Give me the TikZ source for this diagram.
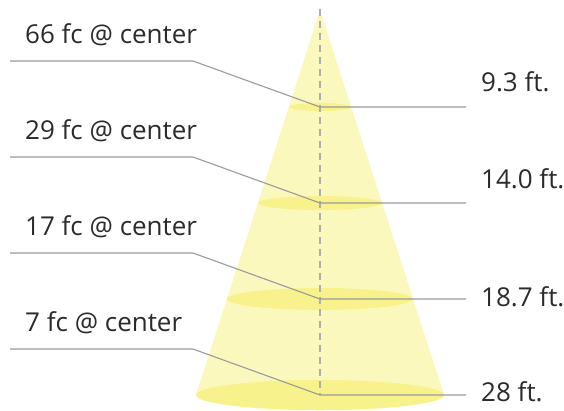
\documentclass[tikz,border=0pt]{standalone}
\usepackage{fontspec}
\setmainfont{Open Sans}
\definecolor{conefill}{HTML}{FBF8BE}
\definecolor{ringfill}{HTML}{F7F28C}
\definecolor{leadgray}{HTML}{9A9A9A}
\definecolor{txtgray}{HTML}{2B2B2B}
\begin{document}
\begin{tikzpicture}[x=1pt, y=-1pt]
	\tikzstyle{lbl}    = [font=\fontsize{26}{30}\selectfont, text=txtgray, inner sep=0pt]
	\tikzstyle{leader} = [draw=leadgray, line width=1.1pt]
	\tikzstyle{axis}   = [draw=leadgray!80, line width=1.1pt, dash pattern=on 7pt off 5pt]

	\useasboundingbox (0,0) rectangle (564,410);

	% light cone
	\fill[conefill] (320,10) -- (196,395) -- (444,395) -- cycle;
	\fill[conefill] (320,395) ellipse (124pt and 15pt);
	\foreach \y/\rx/\ry in {107/31/4, 203/62/7, 299/93/11, 395/124/15}
		\fill[ringfill] (320,\y) ellipse ({\rx pt} and {\ry pt});

	\draw[axis] (320,9) -- (320,395);

	% labels and leaders
	\foreach \i/\y/\ty/\fc/\ft in {1/107/82/66/9.3, 2/203/179/29/14.0, 3/299/297/17/18.7, 4/395/392/7/28}
	{
		\node[lbl, anchor=west] (fc\i) at (25,\y-72) {\fc{} fc @ center};
		\node[lbl, anchor=west] (ft\i) at (481,\ty) {\ft{} ft.};
		\coordinate (a\i) at (10,\y-46);
		\coordinate (b\i) at (193,\y-46);
		\coordinate (c\i) at (320,\y);
		\coordinate (d\i) at (466,\y);
		\draw[leader] (a\i) -- (b\i) -- (c\i) -- (d\i);
	}
\end{tikzpicture}
\end{document}
